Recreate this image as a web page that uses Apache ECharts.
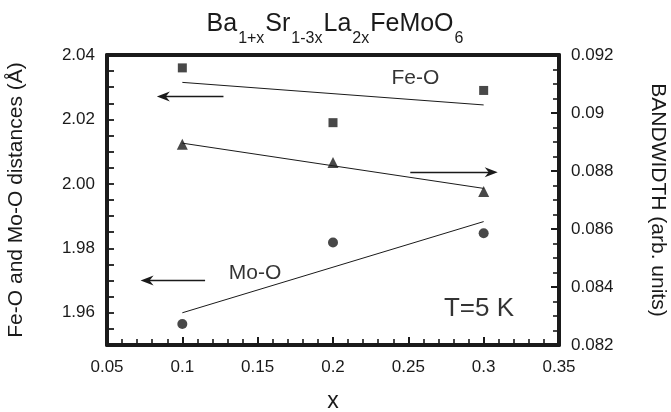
<!DOCTYPE html>
<html>
<head>
<meta charset="utf-8">
<script src="https://cdn.jsdelivr.net/npm/echarts@6/dist/echarts.min.js"></script>
<style>
  html, body { margin: 0; padding: 0; background: #fff; }
  #chart { width: 671px; height: 412px; }
</style>
</head>
<body>
<div id="chart"></div>
<script>
// values
const xValues = [0.1, 0.2, 0.3];
const feO = [2.036, 2.019, 2.029];
const moO = [1.9565, 1.9818, 1.9847];
const bandwidth = [0.08892, 0.08829, 0.08729];

// straight-line fits (end points at x = 0.1 and 0.3)
const fitX = [0.1, 0.3];
const feOFit = [2.0315, 2.0245];
const moOFit = [1.9600, 1.9883];
const bandwidthFit = [0.08896, 0.08740];

// arrows: [fromX, toX, y]
const feOArrow = [0.1273, 0.0874, 2.0271];
const moOArrow = [0.1151, 0.0766, 1.9700];
const bwArrow = [0.2513, 0.3050, 0.08796];

// annotations
const noteText = ['Fe-O', 'Mo-O', 'T=5 K'];
const notePos = [[0.2547, 2.0328], [0.1483, 1.9723], [0.2969, 1.9612]];
const noteSize = [21, 21, 26];

const FONT = 'Liberation Sans, Arial, Helvetica, sans-serif';
const INK = '#1a1a1a';
const frame = () => ({ show: true, lineStyle: { color: INK, width: 4 } });
const majorTick = () => ({ show: true, inside: true, length: 8, lineStyle: { color: INK, width: 2 } });
const minorTick = n => ({ show: true, splitNumber: n, length: 6, lineStyle: { color: INK, width: 1.6 } });

const pairs = (xs, ys) => xs.map((x, i) => [x, ys[i]]);
const arrowLine = a => [[{ coord: [a[0], a[2]] }, { coord: [a[1], a[2]] }]];

const arrowHead = 'path://M5,0 L10,13 L5,9 L0,13 Z';
const arrowMark = a => ({
  silent: true,
  symbol: ['none', arrowHead],
  symbolSize: [10, 13],
  label: { show: false },
  lineStyle: { type: 'solid', color: INK, width: 1.3 },
  emphasis: { disabled: true },
  data: arrowLine(a)
});

const chart = echarts.init(document.getElementById('chart'));

chart.setOption({
  animation: false,
  backgroundColor: '#fff',
  textStyle: { fontFamily: FONT, color: INK },
  title: {
    left: 'center',
    top: 7,
    text: '{m|Ba}{s|1+x}{m|Sr}{s|1-3x}{m|La}{s|2x}{m|FeMoO}{s|6}',
    textStyle: {
      fontWeight: 'normal',
      rich: {
        m: { fontSize: 25, fontWeight: 'normal', fontFamily: FONT, color: INK, verticalAlign: 'top', lineHeight: 30 },
        s: { fontSize: 16, fontWeight: 'normal', fontFamily: FONT, color: INK, verticalAlign: 'top', lineHeight: 18, padding: [19, 1, 0, 1] }
      }
    }
  },
  grid: { left: 107, right: 112, top: 55, bottom: 67, outerBoundsMode: 'none', containLabel: false },
  xAxis: [
    {
      type: 'value', position: 'bottom',
      min: 0.05, max: 0.35, interval: 0.05,
      name: 'x', nameLocation: 'middle', nameGap: 45,
      nameTextStyle: { fontSize: 23, color: INK },
      axisLine: frame(),
      axisTick: majorTick(),
      minorTick: minorTick(5),
      splitLine: { show: false },
      axisLabel: { fontSize: 17, color: INK, margin: 14, formatter: v => String(+v.toFixed(2)) }
    },
    {
      // top edge of the frame
      type: 'value', position: 'top',
      min: 0.05, max: 0.35,
      axisLine: frame(),
      axisTick: { show: false },
      axisLabel: { show: false },
      splitLine: { show: false }
    }
  ],
  yAxis: [
    {
      type: 'value', position: 'left',
      min: 1.95, max: 2.04, interval: 0.005,
      name: 'Fe-O and Mo-O distances (Å)', nameLocation: 'middle', nameGap: 80,
      nameTextStyle: { fontSize: 21, color: INK },
      axisLine: frame(),
      axisTick: { show: true, inside: true, length: 7, lineStyle: { color: INK, width: 1.8 } },
      splitLine: { show: false },
      axisLabel: {
        fontSize: 17, color: INK, margin: 12,
        formatter: v => (Math.round(v * 1000) % 20 === 0 ? v.toFixed(2) : '')
      }
    },
    {
      type: 'value', position: 'right',
      min: 0.082, max: 0.092, interval: 0.002,
      name: 'BANDWIDTH (arb. units)', nameLocation: 'middle', nameGap: 88, nameRotate: -90,
      nameTextStyle: { fontSize: 21, color: INK },
      axisLine: frame(),
      axisTick: majorTick(),
      minorTick: minorTick(4),
      splitLine: { show: false },
      axisLabel: { fontSize: 17, color: INK, margin: 12, formatter: v => String(+v.toFixed(3)) }
    }
  ],
  series: [
    {
      name: 'Fe-O', type: 'scatter', yAxisIndex: 0,
      symbol: 'rect', symbolSize: 9,
      itemStyle: { color: INK },
      data: pairs(xValues, feO),
      markLine: arrowMark(feOArrow)
    },
    {
      name: 'Mo-O', type: 'scatter', yAxisIndex: 0,
      symbol: 'circle', symbolSize: 10,
      itemStyle: { color: INK },
      data: pairs(xValues, moO),
      markLine: arrowMark(moOArrow)
    },
    {
      name: 'Bandwidth', type: 'scatter', yAxisIndex: 1,
      symbol: 'triangle', symbolSize: 11,
      itemStyle: { color: INK },
      data: pairs(xValues, bandwidth),
      markLine: arrowMark(bwArrow)
    },
    {
      name: 'Fe-O fit', type: 'line', yAxisIndex: 0, silent: true,
      showSymbol: false, lineStyle: { color: INK, width: 1 },
      data: pairs(fitX, feOFit)
    },
    {
      name: 'Mo-O fit', type: 'line', yAxisIndex: 0, silent: true,
      showSymbol: false, lineStyle: { color: INK, width: 1 },
      data: pairs(fitX, moOFit)
    },
    {
      name: 'Bandwidth fit', type: 'line', yAxisIndex: 1, silent: true,
      showSymbol: false, lineStyle: { color: INK, width: 1 },
      data: pairs(fitX, bandwidthFit)
    },
    {
      name: 'notes', type: 'scatter', yAxisIndex: 0, silent: true,
      symbolSize: 0,
      label: {
        show: true, position: 'inside', color: '#000', fontFamily: FONT,
        textBorderWidth: 0, formatter: '{b}'
      },
      data: noteText.map((t, i) => ({
        name: t, value: notePos[i], label: { fontSize: noteSize[i] }
      }))
    }
  ]
});
</script>
</body>
</html>
